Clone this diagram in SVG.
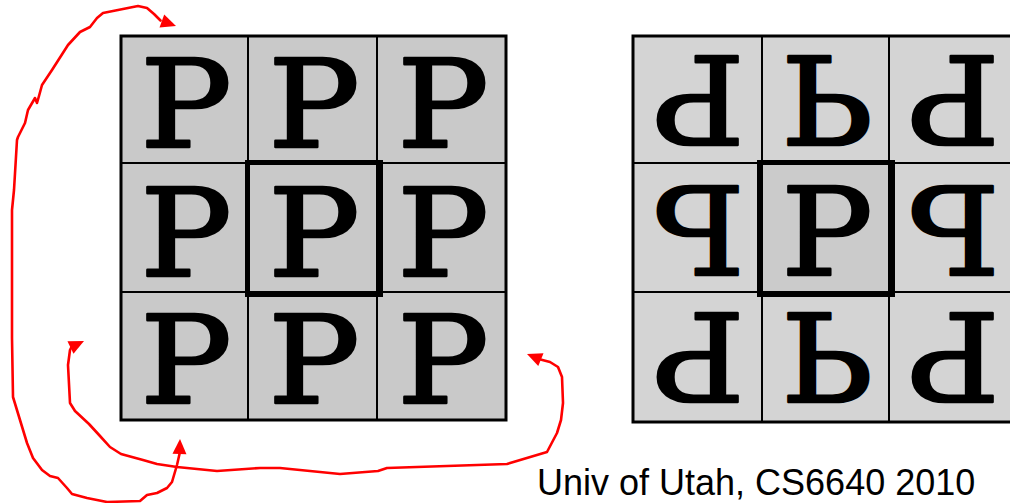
<svg xmlns="http://www.w3.org/2000/svg" xmlns:xlink="http://www.w3.org/1999/xlink" width="1010" height="503" viewBox="0 0 1010 503">
<style>
.cl{fill:#c9c9c9;stroke:#000;stroke-width:2}
.cr{fill:#d4d4d4;stroke:#000;stroke-width:2}
.crc{fill:#cbcbcb;stroke:#000;stroke-width:2}
.p{font-family:"DejaVu Serif","Liberation Serif",serif;font-weight:normal;font-size:122px;text-anchor:middle;fill:#000;stroke:#000;stroke-width:2.5;stroke-linejoin:round}
.frame{fill:none;stroke:#000;stroke-width:3}
.hl{fill:none;stroke:#000;stroke-width:5}
.con{fill:none;stroke:#ff0000;stroke-width:2.6;stroke-linejoin:round;stroke-linecap:round}
.ah{fill:#ff0000}
.lbl{font-family:"Liberation Sans",Arial,sans-serif;font-size:36px;fill:#000}
</style>
<defs>
<path id="arrow" d="M0,0 L-15,-7 L-15,7 Z"/>
</defs>
<rect width="1010" height="503" fill="#fff"/>

<!-- Left grid -->
<g id="left-grid">
<g id="L-r1c1"><rect class="cl" x="121" y="36" width="127" height="127"/><text class="p" transform="translate(186,102.5) scale(1.12,1)" y="44.5">P</text></g>
<g id="L-r1c2"><rect class="cl" x="248" y="36" width="129" height="127"/><text class="p" transform="translate(314,102.5) scale(1.12,1)" y="44.5">P</text></g>
<g id="L-r1c3"><rect class="cl" x="377" y="36" width="129" height="127"/><text class="p" transform="translate(443,102.5) scale(1.12,1)" y="44.5">P</text></g>
<g id="L-r2c1"><rect class="cl" x="121" y="163" width="127" height="129"/><text class="p" transform="translate(186,231) scale(1.12,1)" y="44.5">P</text></g>
<g id="L-r2c2"><rect class="cl" x="248" y="163" width="129" height="129"/><text class="p" transform="translate(314,231) scale(1.12,1)" y="44.5">P</text></g>
<g id="L-r2c3"><rect class="cl" x="377" y="163" width="129" height="129"/><text class="p" transform="translate(443,231) scale(1.12,1)" y="44.5">P</text></g>
<g id="L-r3c1"><rect class="cl" x="121" y="292" width="127" height="128"/><text class="p" transform="translate(186,358.5) scale(1.12,1)" y="44.5">P</text></g>
<g id="L-r3c2"><rect class="cl" x="248" y="292" width="129" height="128"/><text class="p" transform="translate(314,358.5) scale(1.12,1)" y="44.5">P</text></g>
<g id="L-r3c3"><rect class="cl" x="377" y="292" width="129" height="128"/><text class="p" transform="translate(443,358.5) scale(1.12,1)" y="44.5">P</text></g>
<rect class="frame" x="121" y="36" width="385" height="384"/>
<rect class="hl" x="247.5" y="162.5" width="133" height="132"/>
</g>

<!-- Right grid -->
<g id="right-grid">
<g id="R-r1c1"><rect class="cr" x="633" y="36" width="129" height="127"/><text class="p" transform="translate(699,101) scale(-1.12,-1)" y="44.5">P</text></g>
<g id="R-r1c2"><rect class="cr" x="762" y="36" width="127" height="127"/><text class="p" transform="translate(827,101) scale(1.12,-1)" y="44.5">P</text></g>
<g id="R-r1c3"><rect class="cr" x="889" y="36" width="129" height="127"/><text class="p" transform="translate(954,101) scale(-1.12,-1)" y="44.5">P</text></g>
<g id="R-r2c1"><rect class="cr" x="633" y="163" width="129" height="129"/><text class="p" transform="translate(699,230) scale(-1.12,1)" y="44.5">P</text></g>
<g id="R-r2c2"><rect class="crc" x="762" y="163" width="127" height="129"/><text class="p" transform="translate(827,230) scale(1.12,1)" y="44.5">P</text></g>
<g id="R-r2c3"><rect class="cr" x="889" y="163" width="129" height="129"/><text class="p" transform="translate(954,230) scale(-1.12,1)" y="44.5">P</text></g>
<g id="R-r3c1"><rect class="cr" x="633" y="292" width="129" height="130"/><text class="p" transform="translate(699,358) scale(-1.12,-1)" y="44.5">P</text></g>
<g id="R-r3c2"><rect class="cr" x="762" y="292" width="127" height="130"/><text class="p" transform="translate(827,358) scale(1.12,-1)" y="44.5">P</text></g>
<g id="R-r3c3"><rect class="cr" x="889" y="292" width="129" height="130"/><text class="p" transform="translate(954,358) scale(-1.12,-1)" y="44.5">P</text></g>
<rect class="frame" x="633" y="36" width="390" height="386"/>
<rect class="hl" x="759.5" y="162.5" width="133" height="132"/>
</g>

<!-- Connectors -->
<g id="connectors">
<path class="con" d="M160.5,20.5 L154,14 L147,8 L138,6 L103,13 L97,18 L90,27 L80,32 L68,45 L52,70 L42,85 L39,96 L37,103 L35,98 L28,110 L25,123 L18,137 L17,140 L14,190 L12,210 L12,338 L13,397 L20,420 L27,443 L33,458 L42,470 L50,476 L58,478 L67,488 L72,494 L87,498 L107,502 L140,501 L147,495 L157,493 L167,488 L172,482 L177,465 L179.5,454"/>
<use href="#arrow" class="ah" transform="translate(176,26) rotate(19.5)"/>
<use href="#arrow" class="ah" transform="translate(180,439) rotate(-88)"/>
<path class="con" d="M71.5,347 L70,350 L68,365 L70,403 L75,411 L89,424 L100,436 L110,447 L121,454 L143,460 L157,464 L177,467 L217,471 L260,468 L280,468 L340,474 L378,471 L387,468 L507,464 L547,452 L557,433 L561,420 L563,403 L562,377 L558,367 L550,362 L540.5,359.5"/>
<use href="#arrow" class="ah" transform="translate(84,341) rotate(-25.6)"/>
<use href="#arrow" class="ah" transform="translate(527,354) rotate(202)"/>
</g>

<text class="lbl" x="537" y="495">Univ of Utah, CS6640 2010</text>
</svg>
